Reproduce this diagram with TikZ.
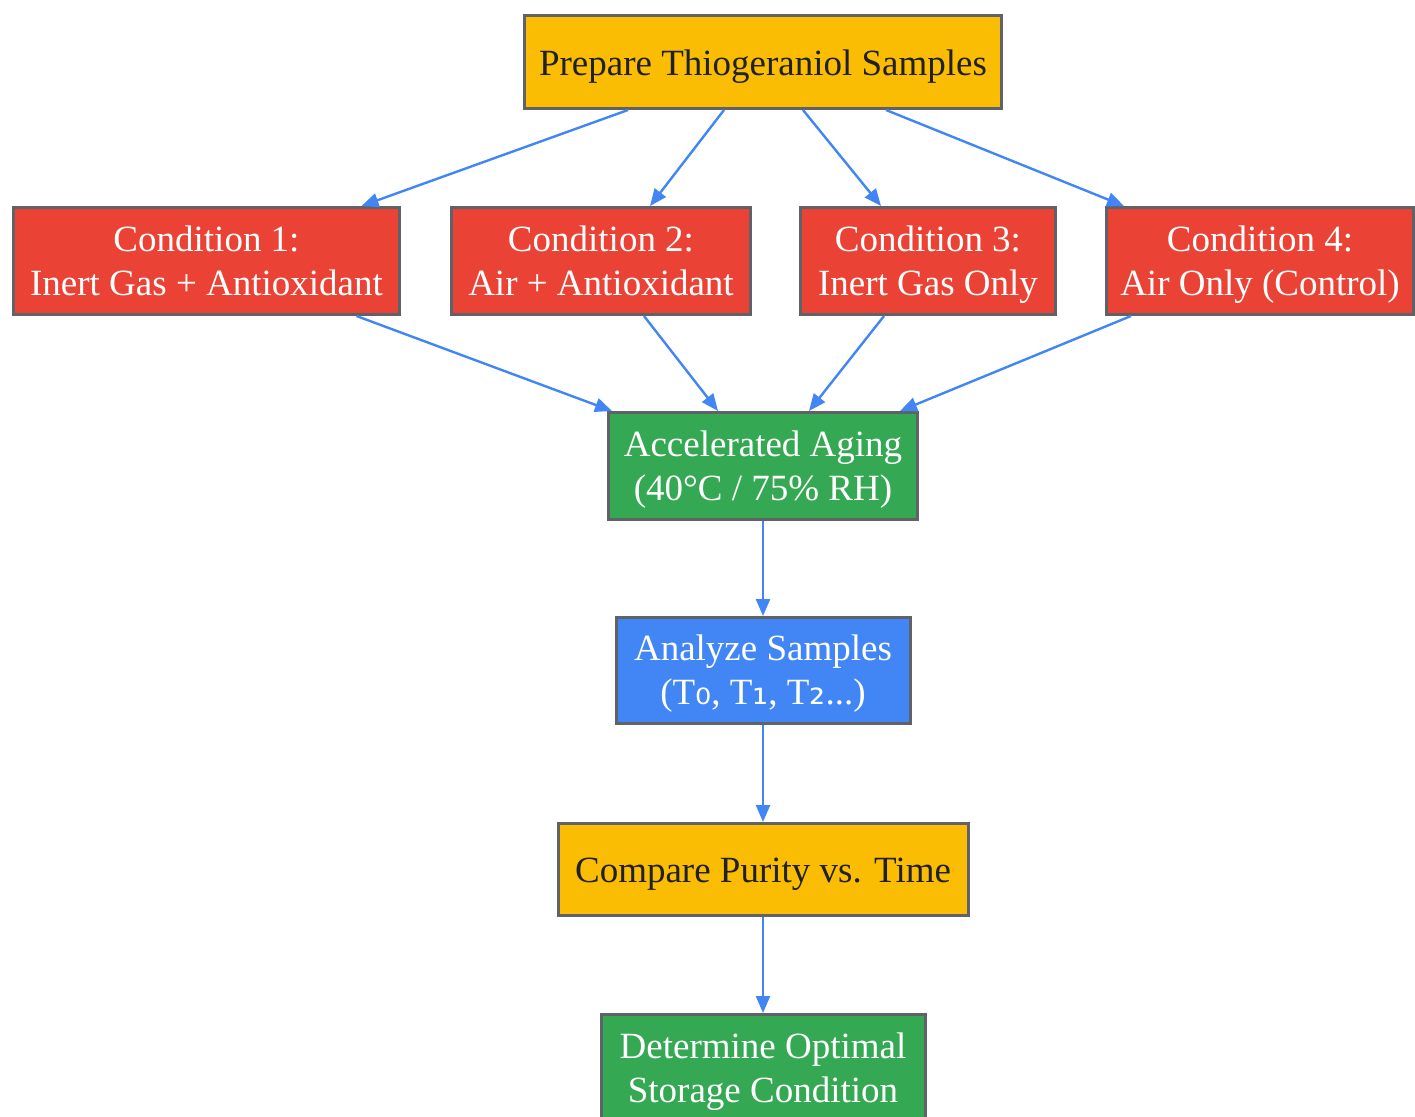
\documentclass[tikz,border=0pt]{standalone}
\usepackage{fontspec}
\setmainfont{Liberation Serif}
\newfontfamily\subfont{DejaVu Sans}
\usetikzlibrary{arrows.meta}
\definecolor{gyellow}{HTML}{FBBC04}
\definecolor{gred}{HTML}{EA4335}
\definecolor{ggreen}{HTML}{34A853}
\definecolor{gblue}{HTML}{4285F4}
\definecolor{gborder}{HTML}{5F6368}
\definecolor{gdark}{HTML}{202124}
\newcommand{\sbd}[1]{{\subfont\fontsize{40}{44}\selectfont #1}}
\begin{document}
\begin{tikzpicture}[x=1pt,y=-1pt,
  box/.style={draw=gborder,line width=3pt,rectangle,align=center,inner sep=0pt,
    font=\fontsize{37}{44}\selectfont,text=white},
  one/.style={text height=30pt,text depth=4pt},
  two/.style={text height=73pt,text depth=5pt},
  ybox/.style={box,fill=gyellow,text=gdark},
  rbox/.style={box,fill=gred},
  gbox/.style={box,fill=ggreen},
  bbox/.style={box,fill=gblue},
  arr/.style={draw=gblue,line width=2.4pt,-{Triangle[length=17pt,width=14pt]}}]
\useasboundingbox (0,0) rectangle (1415,1116);
\node[ybox,one,minimum width=477pt,minimum height=93pt] (prep) at (763,62) {Prepare Thiogeraniol Samples};
\node[rbox,two,minimum width=386pt,minimum height=107pt] (c1) at (206.5,261) {Condition 1:\\Inert Gas + Antioxidant};
\node[rbox,two,minimum width=299pt,minimum height=107pt] (c2) at (601,261) {Condition 2:\\Air + Antioxidant};
\node[rbox,two,minimum width=255pt,minimum height=107pt] (c3) at (928,261) {Condition 3:\\Inert Gas Only};
\node[rbox,two,minimum width=307pt,minimum height=107pt] (c4) at (1260,261) {Condition 4:\\Air Only (Control)};
\node[gbox,two,minimum width=309pt,minimum height=107pt] (aging) at (763,466) {Accelerated Aging\\(40°C / 75\% RH)};
\node[bbox,two,minimum width=294pt,minimum height=106pt] (anal) at (763,670.5) {Analyze Samples\\(T\sbd{₀}, T\sbd{₁}, T\sbd{₂}...)};
\node[ybox,one,minimum width=410pt,minimum height=92pt] (comp) at (763,869.5) {Compare Purity vs. Time};
\node[gbox,two,minimum width=324pt,minimum height=107pt] (det) at (763,1068) {Determine Optimal\\Storage Condition};
\draw[arr] ([xshift=-135pt]prep.south) -- ([xshift=155pt]c1.north);
\draw[arr] ([xshift=-39pt]prep.south) -- ([xshift=49pt]c2.north);
\draw[arr] ([xshift=40pt]prep.south) -- ([xshift=-47pt]c3.north);
\draw[arr] ([xshift=123pt]prep.south) -- ([xshift=-136pt]c4.north);
\draw[arr] ([xshift=150pt]c1.south) -- ([xshift=-151pt]aging.north);
\draw[arr] ([xshift=43pt]c2.south) -- ([xshift=-45pt]aging.north);
\draw[arr] ([xshift=-44pt]c3.south) -- ([xshift=46pt]aging.north);
\draw[arr] ([xshift=-129pt]c4.south) -- ([xshift=137pt]aging.north);
\draw[arr] (aging) -- (anal);
\draw[arr] (anal) -- (comp);
\draw[arr] (comp) -- (det);
\end{tikzpicture}
\end{document}
